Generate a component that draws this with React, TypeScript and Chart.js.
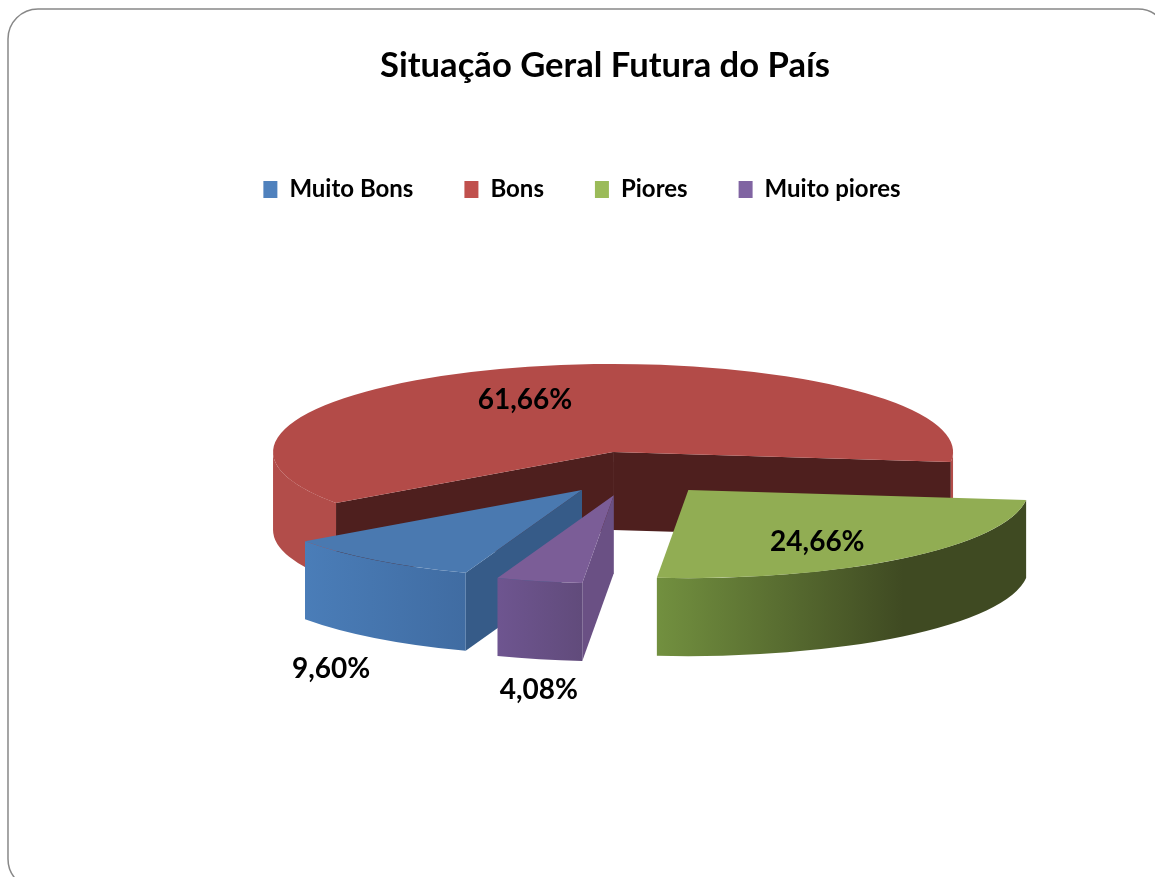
import React, { useEffect, useRef } from "react";
import { Chart, registerables } from "chart.js";

Chart.register(...registerables);

const categories = ["Muito Bons", "Bons", "Piores", "Muito piores"];
const values = [9.6, 61.66, 24.66, 4.08];
const valueLabels = ["9,60%", "61,66%", "24,66%", "4,08%"];
const explosions = [85, 82, 87, 90];
const legendColors = ["#4F81BD", "#C0504D", "#9BBB59", "#8064A2"];
const faceColors = ["#4A79B0", "#B34B48", "#91AD53", "#7B5D97"];
const innerWallColors = ["#365B88", "#4E1F1E", "#3F4A22", "#6A5084"];
const outerWallStops = [
  ["#4A7DB8", "#406CA2"],
  ["#B24D4A", "#B24D4A"],
  ["#72903F", "#3F4A22"],
  ["#6E5590", "#614B7B"],
];
const labelOffsets = [
  [-251, 179],
  [-88, -52],
  [129, 52],
  [-75, 195],
];
const drawOrder = [1, 2, 0, 3];

const PIE_X = 633.5;
const PIE_Y = 472.6;
const SQUASH = 0.259;
const RADIUS = 340;
const DEPTH = 78;
const FONT = "Lato, 'Open Sans', sans-serif";

const framePlugin = {
  id: "frame",
  beforeDraw(chart: any) {
    const ctx = chart.ctx;
    ctx.save();
    ctx.fillStyle = "#ffffff";
    ctx.fillRect(0, 0, chart.width, chart.height);
    ctx.beginPath();
    ctx.roundRect(8, 9, 1160, 880, 30);
    ctx.strokeStyle = "#888888";
    ctx.lineWidth = 1.5;
    ctx.stroke();
    ctx.restore();
  },
  afterLayout(chart: any) {
    chart.legend.left -= 23;
    chart.legend.right -= 23;
  },
};

function apexOf(arc: any, i: number) {
  const mid = (arc.startAngle + arc.endAngle) / 2;
  const off = explosions[i];
  return { x: PIE_X + Math.cos(mid) * off, y: PIE_Y + Math.sin(mid) * off * SQUASH };
}

const solidPlugin = {
  id: "solid",
  beforeDatasetDraw(chart: any, args: any) {
    const ctx = chart.ctx;
    const arcs = args.meta.data;
    for (const i of drawOrder) {
      const arc = arcs[i];
      const a = arc.startAngle;
      const b = arc.endAngle;
      const apex = apexOf(arc, i);
      const pt = (t: number) => [apex.x + RADIUS * Math.cos(t), apex.y + RADIUS * SQUASH * Math.sin(t)];

      // flat cut walls that face the viewer
      const cut = (t: number) => {
        const p = pt(t);
        ctx.beginPath();
        ctx.moveTo(apex.x, apex.y);
        ctx.lineTo(p[0], p[1]);
        ctx.lineTo(p[0], p[1] + DEPTH);
        ctx.lineTo(apex.x, apex.y + DEPTH);
        ctx.closePath();
        ctx.fillStyle = innerWallColors[i];
        ctx.fill();
      };
      if (Math.sin(a - Math.PI / 2) > 0) cut(a);
      if (Math.sin(b + Math.PI / 2) > 0) cut(b);

      // curved rim, only where it faces the viewer
      const windows = [
        [0, Math.PI],
        [2 * Math.PI, 3 * Math.PI],
        [-2 * Math.PI, -Math.PI],
      ];
      for (const [lo, hi] of windows) {
        const s = Math.max(a, lo);
        const e = Math.min(b, hi);
        if (e <= s) continue;
        const x0 = Math.min(pt(a)[0], pt(b)[0]);
        const x1 = i === 2 ? apex.x + 215 : Math.max(pt(a)[0], pt(b)[0]);
        const grad = ctx.createLinearGradient(x0, 0, x1, 0);
        grad.addColorStop(0, outerWallStops[i][0]);
        grad.addColorStop(1, outerWallStops[i][1]);
        ctx.beginPath();
        ctx.ellipse(apex.x, apex.y, RADIUS, RADIUS * SQUASH, 0, s, e);
        ctx.ellipse(apex.x, apex.y + DEPTH, RADIUS, RADIUS * SQUASH, 0, e, s, true);
        ctx.closePath();
        ctx.fillStyle = grad;
        ctx.fill();
      }

      // the top face is the library's own arc element
      ctx.save();
      ctx.translate(apex.x, apex.y);
      ctx.scale(1, SQUASH);
      ctx.translate(-arc.x, -arc.y);
      arc.draw(ctx);
      ctx.restore();
    }
    return false;
  },
  afterDatasetsDraw(chart: any) {
    const ctx = chart.ctx;
    const arcs = chart.getDatasetMeta(0).data;
    ctx.save();
    ctx.font = `bold 28px ${FONT}`;
    ctx.fillStyle = "#000000";
    ctx.textAlign = "center";
    ctx.textBaseline = "middle";
    arcs.forEach((arc: any, i: number) => {
      const apex = apexOf(arc, i);
      ctx.fillText(valueLabels[i], apex.x + labelOffsets[i][0], apex.y + labelOffsets[i][1]);
    });
    ctx.restore();
  },
};

export default function App() {
  const ref = useRef<HTMLCanvasElement>(null);
  useEffect(() => {
    const chart = new Chart(ref.current as HTMLCanvasElement, {
      type: "pie",
      data: {
        labels: categories,
        datasets: [
          {
            data: values,
            backgroundColor: faceColors,
            borderWidth: 0,
            clip: false,
          } as any,
        ],
      },
      options: {
        responsive: false,
        animation: false,
        rotation: 200,
        radius: RADIUS,
        layout: { padding: { left: 55 } },
        plugins: {
          tooltip: { enabled: false },
          title: {
            display: true,
            text: "Situação Geral Futura do País",
            color: "#000000",
            font: { family: FONT, size: 34.6, weight: "bold" },
            padding: { top: 45, bottom: 40 },
          },
          legend: {
            position: "top",
            labels: {
              color: "#000000",
              font: { family: FONT, size: 24, weight: "bold" },
              boxWidth: 14,
              boxHeight: 17,
              padding: 51,
              generateLabels: (c: any) =>
                c.data.labels.map((text: string, i: number) => ({
                  text,
                  fillStyle: legendColors[i],
                  strokeStyle: legendColors[i],
                  lineWidth: 0,
                  hidden: false,
                  index: i,
                })),
            },
          },
        },
      } as any,
      plugins: [framePlugin, solidPlugin],
    });
    return () => chart.destroy();
  }, []);
  return (
    <canvas
      ref={ref}
      width={1155}
      height={877}
      style={{ display: "block", position: "absolute", left: 0, top: 0 }}
    />
  );
}
